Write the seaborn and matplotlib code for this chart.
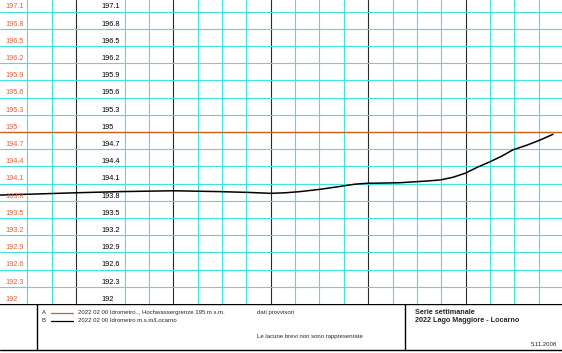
import matplotlib
matplotlib.use('Agg')
import matplotlib.pyplot as plt
from matplotlib.lines import Line2D
import seaborn as sns
import numpy as np
import pandas as pd

# x in grid cells (weekly series), water level in m s.m.
days = [-0.12, 1.5, 3.0, 4.81, 7.0, 8.91, 10.15, 11.0, 11.6, 12.2, 13.02, 13.84,
        14.46, 14.95, 15.69, 16.3, 17.41, 17.95, 18.48, 18.98, 19.51, 20.0,
        20.49, 20.95, 21.52, 22.06, 22.59]
level = [193.90, 193.92, 193.94, 193.96, 193.975, 193.96, 193.945, 193.93, 193.94, 193.96,
         194.00, 194.05, 194.09, 194.105, 194.11, 194.115, 194.145, 194.163, 194.21,
         194.28, 194.39, 194.48, 194.58, 194.69, 194.77, 194.86, 194.96]
flood_limit = 195.0
y_ticks = [192, 192.3, 192.6, 192.9, 193.2, 193.5, 193.8, 194.1, 194.4, 194.7,
           195, 195.3, 195.6, 195.9, 196.2, 196.5, 196.8, 197.1]
week_lines = [3, 7, 11, 15, 19]
day_lines = [1, 2, 5, 6, 8, 9, 10, 12, 13, 14, 16, 17, 18, 20, 21, 22]

legend_a = "2022 02 00 Idrometro.., Hochwassergrenze 195 m s.m."
legend_b = "2022 02 00 Idrometro m.s.m/Locarno"

sns.set_style('white')
plt.rcParams['font.family'] = ['Liberation Sans', 'DejaVu Sans']

cyan = '#3fe3e3'
orange = '#d2601e'
red_lbl = '#e4603a'

fig = plt.figure(figsize=(5.62, 3.53), dpi=100)
ax = fig.add_axes([0, 49 / 353, 1, 304 / 353])

df = pd.DataFrame({'day': days, 'level': level})

ax.set_xticks(week_lines)
ax.set_xticks(day_lines, minor=True)
ax.set_yticks(y_ticks)
ax.xaxis.grid(True, which='major', color='#2a2a2a', lw=0.8)
ax.xaxis.grid(True, which='minor', color=cyan, lw=0.8)
ax.yaxis.grid(True, which='major', color=cyan, lw=0.8)
ax.set_axisbelow(True)
ax.tick_params(which='both', length=0, labelleft=False, labelbottom=False)
for s in ax.spines.values():
    s.set_visible(False)

ax.axhline(flood_limit, color=orange, lw=1.0, zorder=2)
sns.lineplot(data=df, x='day', y='level', ax=ax, color='black', lw=1.1, zorder=3)
ax.set_xlabel('')
ax.set_ylabel('')
ax.set_xlim(-0.121, 22.96)
ax.set_ylim(192, 197.302)

tr = ax.get_yaxis_transform()
for v in y_ticks:
    lab = ('%.1f' % v).rstrip('0').rstrip('.')
    ax.text(5 / 562, v + 0.02, lab, transform=tr, fontsize=5.3, color=red_lbl,
            ha='left', va='bottom')
    ax.text(101 / 562, v + 0.02, lab, transform=tr, fontsize=5.3, color='black',
            ha='left', va='bottom')

# footer block
fx = fig.add_axes([0, 0, 1, 49 / 353])
fx.set_xlim(0, 562)
fx.set_ylim(353, 304)
fx.axis('off')
frame = dict(color='black', lw=1.0)
fx.add_line(Line2D([0, 562], [304.5, 304.5], **frame))
fx.add_line(Line2D([0, 562], [350, 350], **frame))
fx.add_line(Line2D([37, 37], [304, 350], **frame))
fx.add_line(Line2D([405, 405], [304, 350], **frame))

fs = 4.3
fx.text(42, 313, 'A', fontsize=fs, va='center')
fx.add_line(Line2D([51, 73], [313, 313], color=orange, lw=0.9))
fx.text(78, 313, legend_a, fontsize=fs, va='center')
fx.text(42, 321, 'B', fontsize=fs, va='center')
fx.add_line(Line2D([51, 73], [321, 321], color='black', lw=0.9))
fx.text(78, 321, legend_b, fontsize=fs, va='center')
fx.text(257, 313, 'dati provvisori', fontsize=fs, va='center')
fx.text(257, 337, 'Le lacune brevi non sono rappresentate', fontsize=fs, va='center')
fx.text(415, 313, 'Serie settimanale', fontsize=5.2, fontweight='bold', va='center')
fx.text(415, 321, '2022 Lago Maggiore - Locarno', fontsize=5.2, fontweight='bold', va='center')
fx.text(557, 345, '5.11.2008', fontsize=fs, ha='right', va='center')

fig.savefig('out.png', dpi=100)
